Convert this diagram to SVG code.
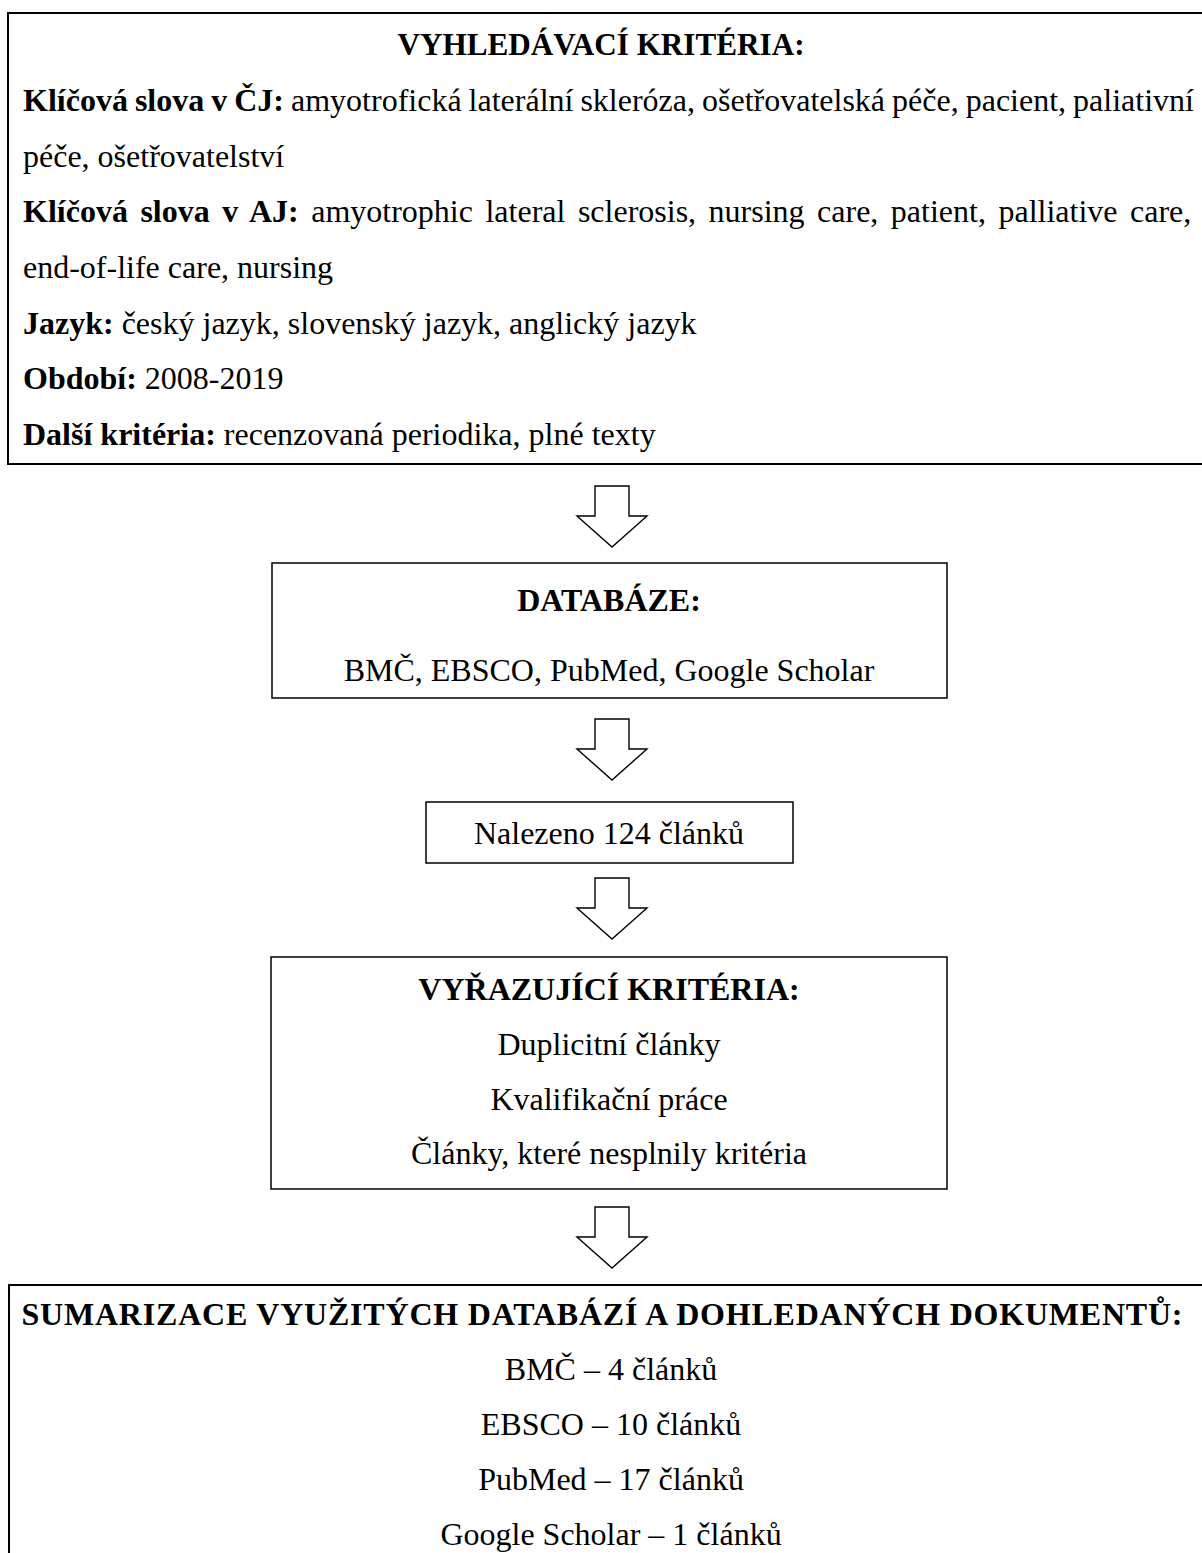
<svg xmlns="http://www.w3.org/2000/svg" width="1202" height="1553" viewBox="0 0 1202 1553">
<style>
  text { font-family: "Liberation Serif", "Times New Roman", serif; font-size: 32px; fill: #000; }
  .b { font-weight: bold; }
  .c { text-anchor: middle; }
  .big { fill: #fff; stroke: #000; stroke-width: 2; }
  .box { fill: #fff; stroke: #000; stroke-width: 1.5; }
  .arrow { fill: #fff; stroke: #000; stroke-width: 1.4; stroke-linejoin: miter; }
</style>
<defs>
  <path id="downArrow" d="M -17 0 L 17 0 L 17 30 L 35 30 L 0 61 L -35 30 L -17 30 Z"/>
</defs>
<rect width="1202" height="1553" fill="#fff"/>

<g id="node-search-criteria">
  <rect class="big" x="8" y="13" width="1210" height="451"/>
  <text class="b c" x="601" y="55" textLength="407" lengthAdjust="spacingAndGlyphs">VYHLEDÁVACÍ KRITÉRIA:</text>
  <text x="23" y="111" word-spacing="-1"><tspan class="b">Klíčová slova v ČJ:</tspan> amyotrofická laterální skleróza, ošetřovatelská péče, pacient, paliativní</text>
  <text x="23" y="167">péče, ošetřovatelství</text>
  <text x="23" y="222" word-spacing="4.5"><tspan class="b">Klíčová slova v AJ:</tspan> amyotrophic lateral sclerosis, nursing care, patient, palliative care,</text>
  <text x="23" y="278">end-of-life care, nursing</text>
  <text x="23" y="334"><tspan class="b">Jazyk:</tspan> český jazyk, slovenský jazyk, anglický jazyk</text>
  <text x="23" y="389"><tspan class="b">Období:</tspan> 2008-2019</text>
  <text x="23" y="445"><tspan class="b">Další kritéria:</tspan> recenzovaná periodika, plné texty</text>
</g>

<g id="node-databases">
  <rect class="box" x="272" y="563" width="675" height="135"/>
  <text class="b c" x="609" y="611">DATABÁZE:</text>
  <text class="c" x="609" y="681">BMČ, EBSCO, PubMed, Google Scholar</text>
</g>

<g id="node-found">
  <rect class="box" x="426" y="802" width="367" height="61"/>
  <text class="c" x="609" y="844">Nalezeno 124 článků</text>
</g>

<g id="node-exclusion">
  <rect class="box" x="271" y="957" width="676" height="232"/>
  <text class="b c" x="609" y="1000">VYŘAZUJÍCÍ KRITÉRIA:</text>
  <text class="c" x="609" y="1055">Duplicitní články</text>
  <text class="c" x="609" y="1110">Kvalifikační práce</text>
  <text class="c" x="609" y="1164">Články, které nesplnily kritéria</text>
</g>

<g id="node-summary">
  <rect class="big" x="9" y="1285" width="1210" height="300"/>
  <text class="b c" x="602" y="1325" textLength="1161" lengthAdjust="spacing">SUMARIZACE VYUŽITÝCH DATABÁZÍ A DOHLEDANÝCH DOKUMENTŮ:</text>
  <text class="c" x="611" y="1380">BMČ – 4 článků</text>
  <text class="c" x="611" y="1435">EBSCO – 10 článků</text>
  <text class="c" x="611" y="1490">PubMed – 17 článků</text>
  <text class="c" x="611" y="1545">Google Scholar – 1 článků</text>
</g>

<g id="connectors">
  <use href="#downArrow" class="arrow" x="612" y="486"/>
  <use href="#downArrow" class="arrow" x="612" y="719"/>
  <use href="#downArrow" class="arrow" x="612" y="878"/>
  <use href="#downArrow" class="arrow" x="612" y="1207"/>
</g>
</svg>
